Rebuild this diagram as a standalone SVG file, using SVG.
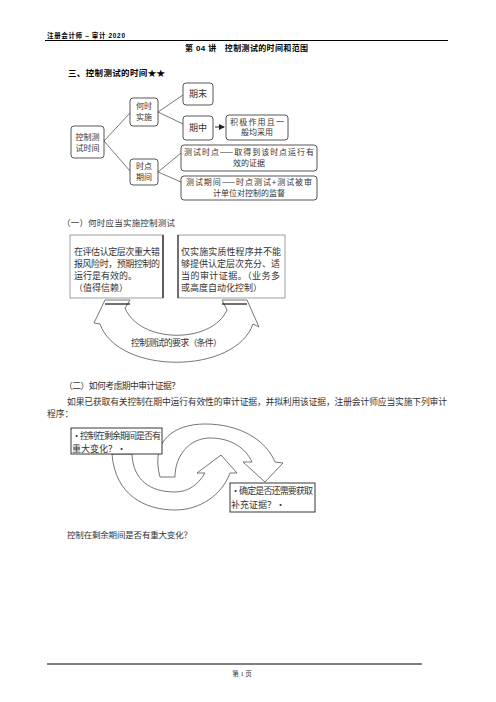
<svg xmlns="http://www.w3.org/2000/svg" width="496" height="702" viewBox="0 0 496 702">
<style>
.hd{font-family:"Liberation Sans","Noto Sans CJK SC",sans-serif;font-weight:bold;fill:#000}
.sr{font-family:"Liberation Serif","Noto Sans CJK SC",serif;fill:#333}
.dt{font-family:"Noto Sans CJK SC",sans-serif;fill:#333;font-size:9px}
.d8{font-family:"Noto Sans CJK SC",sans-serif;fill:#333;font-size:8px}
.bx{fill:#fff;stroke:#444;stroke-width:0.9}
.ln{stroke:#555;stroke-width:0.8;fill:none}
.ar{fill:#fff;stroke:#666;stroke-width:0.9}
</style>
<defs>
<marker id="ah" markerWidth="6" markerHeight="6" refX="5" refY="3" orient="auto" markerUnits="userSpaceOnUse">
<path d="M0,0 L6,3 L0,6 Z" fill="#222"/>
</marker>
</defs>
<rect width="496" height="702" fill="#fff"/>
<g id="header">
<text class="hd" x="47" y="37.5" font-size="6.5" textLength="78">注册会计师 – 审计 2020</text>
<line x1="45" y1="40.5" x2="448" y2="40.5" stroke="#000" stroke-width="1"/>
<text class="hd" x="185" y="51" font-size="8" textLength="123">第 04 讲　控制测试的时间和范围</text>
<text class="hd" x="68" y="76" font-size="8.5" textLength="97">三、控制测试的时间★★</text>
</g>
<g id="connectors1">
<line class="ln" x1="104" y1="141" x2="130" y2="113"/>
<line class="ln" x1="104" y1="141" x2="130" y2="171"/>
<line class="ln" x1="158" y1="112" x2="183" y2="95"/>
<line class="ln" x1="158" y1="112" x2="183" y2="124"/>
<line class="ln" x1="158" y1="172" x2="181" y2="153"/>
<line class="ln" x1="158" y1="172" x2="181" y2="182"/>
<line x1="215" y1="127" x2="224" y2="127" stroke="#222" stroke-width="1" marker-end="url(#ah)"/>
</g>
<g id="root">
<rect class="bx" x="71" y="126" width="33" height="32" rx="3"/>
<text class="d8" x="87.5" y="139.5" text-anchor="middle">控制测</text>
<text class="d8" x="87.5" y="150.5" text-anchor="middle">试时间</text>
</g>
<g id="when">
<rect class="bx" x="130" y="98" width="28" height="28" rx="3"/>
<text class="d8" x="144" y="109" text-anchor="middle">何时</text>
<text class="d8" x="144" y="120" text-anchor="middle">实施</text>
</g>
<g id="pointperiod">
<rect class="bx" x="130" y="159" width="28" height="26" rx="3"/>
<text class="d8" x="144" y="169" text-anchor="middle">时点</text>
<text class="d8" x="144" y="180" text-anchor="middle">期间</text>
</g>
<g id="yearend">
<rect class="bx" x="183" y="83" width="30" height="22" rx="3"/>
<text class="dt" x="198" y="97" text-anchor="middle">期末</text>
</g>
<g id="interim">
<rect class="bx" x="183" y="116" width="30" height="24" rx="3"/>
<text class="dt" x="198" y="131" text-anchor="middle">期中</text>
</g>
<g id="positive">
<rect class="bx" x="226" y="115" width="62" height="25" rx="3"/>
<text class="d8" x="257" y="124.5" text-anchor="middle" textLength="54">积极作用且一</text>
<text class="d8" x="257" y="135" text-anchor="middle">般均采用</text>
</g>
<g id="testpoint">
<rect class="bx" x="181" y="145" width="136" height="26" rx="3"/>
<text class="d8" x="249" y="155" text-anchor="middle" textLength="130">测试时点——取得到该时点运行有</text>
<text class="d8" x="249" y="166" text-anchor="middle">效的证据</text>
</g>
<g id="testperiod">
<rect class="bx" x="181" y="176" width="136" height="24" rx="3"/>
<text class="d8" x="249" y="185" text-anchor="middle" textLength="126">测试期间——时点测试+测试被审</text>
<text class="d8" x="249" y="196" text-anchor="middle">计单位对控制的监督</text>
</g>
<text class="sr" x="62" y="226" font-size="8.5" textLength="113">（一）何时应当实施控制测试</text>
<g id="connectors2">
<path class="ar" d="M105,300 L130,300 L125,308 C140,344 212,344 227,310 L222,300 L247,300 L259,327 L253,324 C235,375 118,375 100,324 L94,323 Z"/>
<line x1="105" y1="304" x2="130" y2="304" stroke="#111" stroke-width="1.2"/>
<line x1="222" y1="304" x2="247" y2="304" stroke="#111" stroke-width="1.2"/>
<text class="dt" x="131" y="346" font-size="8.5" textLength="91">控制测试的要求（条件）</text>
</g>
<g id="reliance">
<rect x="70" y="235" width="93" height="63" fill="#fff" stroke="#888" stroke-width="0.8"/>
<line x1="163" y1="235" x2="163" y2="298" stroke="#111" stroke-width="1.2"/>
<text class="dt" x="74" y="255" textLength="86">在评估认定层次重大错</text>
<text class="dt" x="74" y="267" textLength="86">报风险时，预期控制的</text>
<text class="dt" x="74" y="279">运行是有效的。</text>
<text class="dt" x="74" y="291">（值得信赖）</text>
</g>
<g id="substantive">
<rect x="178" y="235" width="107" height="63" fill="#fff" stroke="#888" stroke-width="0.8"/>
<line x1="178" y1="235" x2="178" y2="298" stroke="#111" stroke-width="1"/>
<text class="dt" x="181" y="255" textLength="100">仅实施实质性程序并不能</text>
<text class="dt" x="181" y="267" textLength="99">够提供认定层次充分、适</text>
<text class="dt" x="181" y="279" textLength="99">当的审计证据。（业务多</text>
<text class="dt" x="181" y="291">或高度自动化控制）</text>
</g>
<text class="sr" x="64" y="389" font-size="8.8" textLength="116">（二）如何考虑期中审计证据？</text>
<text class="sr" x="67" y="405" font-size="8.8" textLength="380">如果已获取有关控制在期中运行有效性的审计证据，并拟利用该证据，注册会计师应当实施下列审计</text>
<text class="sr" x="47" y="417" font-size="8.8">程序：</text>
<g id="connectors3">
<path class="ar" d="M160,477 C150,440 175,424 205,424 C240,424 266,440 275,462 L283,463 L265,482 L243,462 L252,462 C245,447 230,438 210,438 C190,438 175,455 175,477 Z"/>
<path class="ar" d="M112,454 C115,495 145,510 175,510 C200,510 222,495 230,473 L237,473 L221,455 L197,473 L205,473 C198,485 188,492 175,492 C150,492 133,480 132,454 Z"/>
</g>
<g id="remaining">
<rect x="71" y="428" width="91" height="26" fill="#fff" stroke="#222" stroke-width="0.9"/>
<text class="dt" x="72" y="439" font-size="8.5" textLength="89">•控制在剩余期间是否有</text>
<text class="dt" x="72" y="452" font-size="8.5">重大变化？•</text>
</g>
<g id="supplement">
<rect x="230" y="483" width="85" height="29" fill="#fff" stroke="#222" stroke-width="0.9"/>
<text class="dt" x="231" y="494" font-size="8.3" textLength="82">•确定是否还需要获取</text>
<text class="dt" x="231" y="508" font-size="8.3">补充证据？•</text>
</g>
<text class="sr" x="67" y="538" font-size="8.5" textLength="125">控制在剩余期间是否有重大变化？</text>
<g id="footer">
<line x1="47" y1="664" x2="422" y2="664" stroke="#000" stroke-width="1"/>
<text class="sr" x="242" y="676" font-size="6.5" text-anchor="middle">第 1 页</text>
</g>
</svg>
